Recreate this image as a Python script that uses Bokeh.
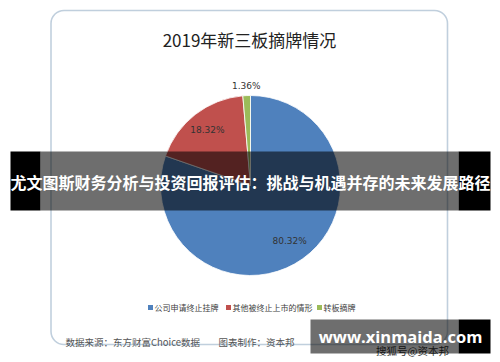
import numpy as np
from bokeh.plotting import figure
from bokeh.models import Range1d, BoxAnnotation
from bokeh.core.properties import value
from bokeh.embed import file_html
from bokeh.resources import INLINE

# ---- data ----
title = "2019年新三板摘牌情况"
categories = ["公司申请终止挂牌", "其他被终止上市的情形", "转板摘牌"]
shares = [80.32, 18.32, 1.36]
colors = ["#4F81BD", "#C0504D", "#9BBB59"]
label_r = [0.75, 0.78, 1.11]
banner = "尤文图斯财务分析与投资回报评估：挑战与机遇并存的未来发展路径"
source_note = "数据来源：东方财富Choice数据"
maker_note = "图表制作：资本邦"
site = "www.xinmaida.com"
sohu = "搜狐号@资本邦"

W, H = 500, 362
CJK = value("Noto Sans CJK SC")


def Y(py):
    return H - py


p = figure(width=W, height=H, x_range=Range1d(0, W), y_range=Range1d(0, H),
           output_backend="svg", toolbar_location=None, min_border=0,
           x_axis_location=None, y_axis_location=None)
p.grid.visible = False
p.outline_line_color = None
p.background_fill_color = "white"

# rounded frame
p.add_layout(BoxAnnotation(left=50.5, right=447, top=Y(10), bottom=Y(344), fill_color=None,
                           line_color="#2F5F8F", line_width=1.6, border_radius=13))

# title
p.text(x=[249], y=[Y(39)], text=[title], text_font=CJK, text_font_size="17px",
       text_color="#222222", text_align="center", text_baseline="middle")

# pie
cx, cy, R = 250, Y(185), 90
fr = np.array(shares) / sum(shares)
cum = np.concatenate([[0], np.cumsum(fr)])
start = np.pi / 2 - 2 * np.pi * cum[:-1]
end = np.pi / 2 - 2 * np.pi * cum[1:]
p.wedge(x=cx, y=cy, radius=R, start_angle=start, end_angle=end, direction="clock",
        fill_color=colors, line_color="white", line_width=0.8)
mid = np.pi / 2 - 2 * np.pi * (cum[:-1] + cum[1:]) / 2
lx = cx + np.array(label_r) * R * np.cos(mid)
ly = cy + np.array(label_r) * R * np.sin(mid)
p.text(x=lx, y=ly, text=[f"{v:.2f}%" for v in shares], text_font=value("DejaVu Sans"),
       text_font_size="9px", text_color="#333333", text_align="center", text_baseline="middle")

# legend
leg_x = [150, 228, 319]
p.scatter(x=leg_x, y=[Y(307)] * 3, marker="square", size=5, fill_color=colors, line_color=None)
p.text(x=[x + 4 for x in leg_x], y=[Y(307)] * 3, text=categories, text_font=CJK,
       text_font_size="8px", text_color="#404040", text_align="left", text_baseline="middle")

# footer
p.text(x=[65, 218], y=[Y(341)] * 2, text=[source_note, maker_note], text_font=CJK,
       text_font_size="9.5px", text_color="#555555", text_align="left", text_baseline="middle")
p.text(x=[412], y=[Y(350)], text=[sohu], text_font=CJK, text_font_size="10.5px",
       text_color="#333333", text_align="center", text_baseline="middle")

# banner overlay
p.add_layout(BoxAnnotation(left=40, right=458, top=Y(151), bottom=Y(210), fill_color="black",
                           fill_alpha=0.57, line_color=None))
for l, r in [(10, 40), (458, 490)]:
    p.add_layout(BoxAnnotation(left=l, right=r, top=Y(151), bottom=Y(210), fill_color="black",
                               fill_alpha=1.0, line_color=None))
p.text(x=[250], y=[Y(181)], text=[banner], text_font=CJK, text_font_style="bold",
       text_font_size="16px", text_color="white", text_align="center", text_baseline="middle",
       level="overlay")

# site overlay
p.add_layout(BoxAnnotation(left=310, right=458, top=Y(319), bottom=Y(353), fill_color="black",
                           fill_alpha=0.57, line_color=None))
p.add_layout(BoxAnnotation(left=458, right=490, top=Y(319), bottom=Y(353), fill_color="black",
                           fill_alpha=1.0, line_color=None))
p.text(x=[400], y=[Y(336)], text=[site], text_font=value("Open Sans"), text_font_style="bold",
       text_font_size="16.5px", text_color="white", text_align="center", text_baseline="middle",
       level="overlay")

open("out.html", "w").write(file_html(p, INLINE))
